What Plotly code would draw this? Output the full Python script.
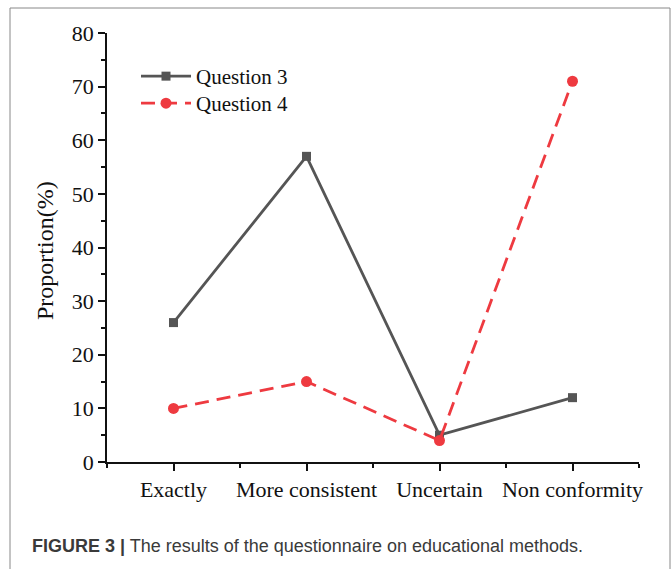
import plotly.graph_objects as go

categories = ["Exactly", "More consistent", "Uncertain", "Non conformity"]
question3 = [26, 57, 5, 12]
question4 = [10, 15, 4, 71]
y_ticks = [0, 10, 20, 30, 40, 50, 60, 70, 80]

xpos = list(range(len(categories)))
serif = "Liberation Serif, Times New Roman, serif"

fig = go.Figure()
fig.add_trace(go.Scatter(
    x=xpos, y=question3, name="Question 3", mode="lines+markers",
    line=dict(color="#555555", width=2.8),
    marker=dict(symbol="square", size=9, color="#555555"),
    legend="legend",
))
fig.add_trace(go.Scatter(
    x=xpos, y=question4, name="Question 4", mode="lines+markers",
    line=dict(color="#ee3a40", width=2.8, dash="14px,8px"),
    marker=dict(symbol="circle", size=11, color="#ee3a40"),
    legend="legend2",
))

L, R, T, B = 107, 639, 33, 462
W, H = 672, 569
pw, ph = R - L, B - T

def px(x):
    return (x - L) / pw

def py(y):
    return (B - y) / ph

legend_style = dict(xanchor="left", yanchor="top",
                    font=dict(family=serif, size=21, color="#111111"),
                    bgcolor="rgba(0,0,0,0)", itemwidth=50)

fig.update_layout(
    width=W, height=H,
    margin=dict(l=L, r=W - R, t=T, b=H - B, pad=0),
    paper_bgcolor="white", plot_bgcolor="white",
    showlegend=True,
    legend=dict(x=px(136), y=py(56), **legend_style),
    legend2=dict(x=px(136), y=py(83), **legend_style),
    xaxis=dict(
        range=[-0.5, 3.5], tickvals=xpos, ticktext=categories,
        showgrid=False, zeroline=False, showline=True, linecolor="#111111", linewidth=1.5,
        ticks="outside", ticklen=7, tickwidth=1.5, tickcolor="#111111",
        tickfont=dict(family=serif, size=22, color="#111111"),
        minor=dict(tickvals=[-0.5, 0.5, 1.5, 2.5, 3.5], ticks="outside", ticklen=4,
                   tickwidth=1.5, tickcolor="#111111", showgrid=False),
    ),
    yaxis=dict(
        range=[0, 80], tickvals=y_ticks,
        showgrid=False, zeroline=False, showline=True, linecolor="#111111", linewidth=1.5,
        ticks="outside", ticklen=7, tickwidth=1.5, tickcolor="#111111",
        tickfont=dict(family=serif, size=22, color="#111111"),
        minor=dict(dtick=5, tick0=0, ticks="outside", ticklen=4,
                   tickwidth=1.5, tickcolor="#111111", showgrid=False),
    ),
)

fig.add_annotation(
    text="Proportion(%)", textangle=-90, showarrow=False,
    xref="paper", yref="paper", x=px(45), y=py(251),
    xanchor="center", yanchor="middle",
    font=dict(family=serif, size=24, color="#111111"),
)
fig.add_annotation(
    text="<b>FIGURE 3 |</b> The results of the questionnaire on educational methods.",
    showarrow=False, xref="paper", yref="paper", x=px(30), y=py(546),
    xanchor="left", yanchor="middle",
    font=dict(family="Liberation Sans, Arial, sans-serif", size=18, color="#3a3a3a"),
)
fig.add_shape(
    type="rect", xref="paper", yref="paper",
    x0=px(10), x1=px(670), y0=py(580), y1=py(8),
    line=dict(color="#888888", width=1), fillcolor="rgba(0,0,0,0)", layer="below",
)

fig.write_html(
    "out.html",
    config={"displayModeBar": False},
    post_script="document.body.style.margin='0';document.body.style.padding='0';document.body.style.overflow='hidden';",
)
